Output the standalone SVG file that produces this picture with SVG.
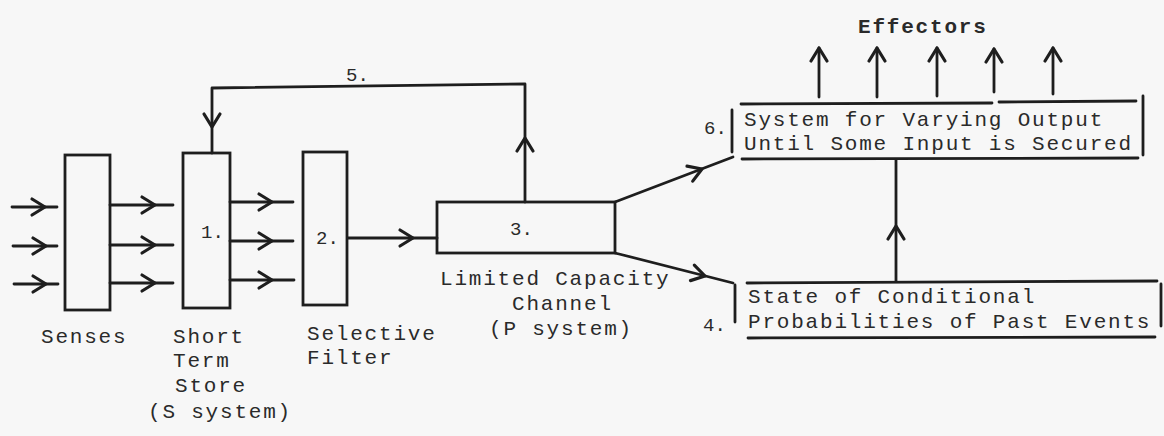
<svg xmlns="http://www.w3.org/2000/svg" xmlns:xlink="http://www.w3.org/1999/xlink" width="1164" height="436" viewBox="0 0 1164 436">
<style>
.ln{fill:none;stroke:#1e1e1e;stroke-width:2.8;stroke-linecap:round;stroke-linejoin:round}
.bx{fill:none;stroke:#1e1e1e;stroke-width:2.8}
.t{font-family:"Liberation Mono","DejaVu Sans Mono",monospace;font-size:21px;letter-spacing:1.8px;fill:#2a2a2a}
.n{font-family:"Liberation Mono","DejaVu Sans Mono",monospace;font-size:19px;fill:#2a2a2a}
.b{font-weight:bold}
</style>
<defs>
<path id="chev" d="M-13,-8 L0,0 L-13,8" fill="none" stroke="#1e1e1e" stroke-width="3.2" stroke-linecap="round" stroke-linejoin="round"/>
</defs>
<rect width="1164" height="436" fill="#f7f7f7"/>

<g id="connectors">
<line class="ln" x1="12" y1="207" x2="57" y2="207"/><use xlink:href="#chev" transform="translate(45,207)"/>
<line class="ln" x1="13" y1="246" x2="57" y2="246"/><use xlink:href="#chev" transform="translate(46,246)"/>
<line class="ln" x1="14" y1="284" x2="58" y2="284"/><use xlink:href="#chev" transform="translate(46,284)"/>
<line class="ln" x1="110" y1="205" x2="173" y2="205"/><use xlink:href="#chev" transform="translate(155,205)"/>
<line class="ln" x1="110" y1="245" x2="173" y2="245"/><use xlink:href="#chev" transform="translate(155,245)"/>
<line class="ln" x1="110" y1="283" x2="173" y2="283"/><use xlink:href="#chev" transform="translate(155,283)"/>
<line class="ln" x1="230" y1="202" x2="293" y2="202"/><use xlink:href="#chev" transform="translate(272,202)"/>
<line class="ln" x1="230" y1="241" x2="293" y2="241"/><use xlink:href="#chev" transform="translate(272,241)"/>
<line class="ln" x1="230" y1="280" x2="294" y2="280"/><use xlink:href="#chev" transform="translate(272,280)"/>
<line class="ln" x1="348" y1="238" x2="437" y2="238"/><use xlink:href="#chev" transform="translate(413,238)"/>
<polyline class="ln" points="525,202 525,84 212,88 212,153"/>
<use xlink:href="#chev" transform="translate(525,138) rotate(-90)"/>
<use xlink:href="#chev" transform="translate(212,127) rotate(90)"/>
<line class="ln" x1="615" y1="202" x2="733" y2="157"/><use xlink:href="#chev" transform="translate(702,169) rotate(-21)"/>
<line class="ln" x1="615" y1="253" x2="733" y2="283"/><use xlink:href="#chev" transform="translate(705,276) rotate(14)"/>
<line class="ln" x1="896" y1="281" x2="896" y2="160"/><use xlink:href="#chev" transform="translate(896,226) rotate(-90)"/>
<line class="ln" x1="819" y1="97" x2="819" y2="48"/><use xlink:href="#chev" transform="translate(819,48) rotate(-90)"/>
<line class="ln" x1="877" y1="97" x2="877" y2="48"/><use xlink:href="#chev" transform="translate(877,48) rotate(-90)"/>
<line class="ln" x1="937" y1="96" x2="937" y2="48"/><use xlink:href="#chev" transform="translate(937,48) rotate(-90)"/>
<line class="ln" x1="994" y1="92" x2="994" y2="49"/><use xlink:href="#chev" transform="translate(994,49) rotate(-90)"/>
<line class="ln" x1="1053" y1="94" x2="1053" y2="48"/><use xlink:href="#chev" transform="translate(1053,48) rotate(-90)"/>
<text class="n" x="346" y="81">5.</text>
</g>

<g id="senses">
<rect class="bx" x="65" y="155" width="45" height="155"/>
<text class="t" x="41" y="343">Senses</text>
</g>

<g id="sts">
<rect class="bx" x="183" y="153" width="47" height="155"/>
<text class="n" x="201" y="238">1.</text>
<text class="t" x="173" y="343">Short</text>
<text class="t" x="173" y="367">Term</text>
<text class="t" x="175" y="392">Store</text>
<text class="t" x="148" y="418">(S system)</text>
</g>

<g id="filter">
<rect class="bx" x="303" y="152" width="44" height="153"/>
<text class="n" x="316" y="244">2.</text>
<text class="t" x="307" y="340">Selective</text>
<text class="t" x="307" y="364">Filter</text>
</g>

<g id="channel">
<rect class="bx" x="437" y="202" width="178" height="51"/>
<text class="n" x="510" y="235">3.</text>
<text class="t" x="440" y="285">Limited Capacity</text>
<text class="t" x="512" y="310">Channel</text>
<text class="t" x="489" y="335">(P system)</text>
</g>

<g id="output-system">
<line class="ln" x1="741" y1="104" x2="992" y2="103"/>
<line class="ln" x1="999" y1="102" x2="1136" y2="101"/>
<line class="ln" x1="732" y1="110" x2="732" y2="152"/>
<line class="ln" x1="1143" y1="96" x2="1143" y2="155"/>
<line class="ln" x1="742" y1="159" x2="1138" y2="158"/>
<text class="n" x="704" y="134">6.</text>
<text class="t" x="744" y="126">System for Varying Output</text>
<text class="t" x="744" y="150">Until Some Input is Secured</text>
<text class="t b" x="858" y="33">Effectors</text>
</g>

<g id="probabilities">
<line class="ln" x1="747" y1="283" x2="1157" y2="281"/>
<line class="ln" x1="735" y1="285" x2="735" y2="322"/>
<line class="ln" x1="1161" y1="284" x2="1161" y2="326"/>
<line class="ln" x1="748" y1="338" x2="1155" y2="337"/>
<text class="n" x="703" y="331">4.</text>
<text class="t" x="748" y="303">State of Conditional</text>
<text class="t" x="748" y="328">Probabilities of Past Events</text>
</g>
</svg>
